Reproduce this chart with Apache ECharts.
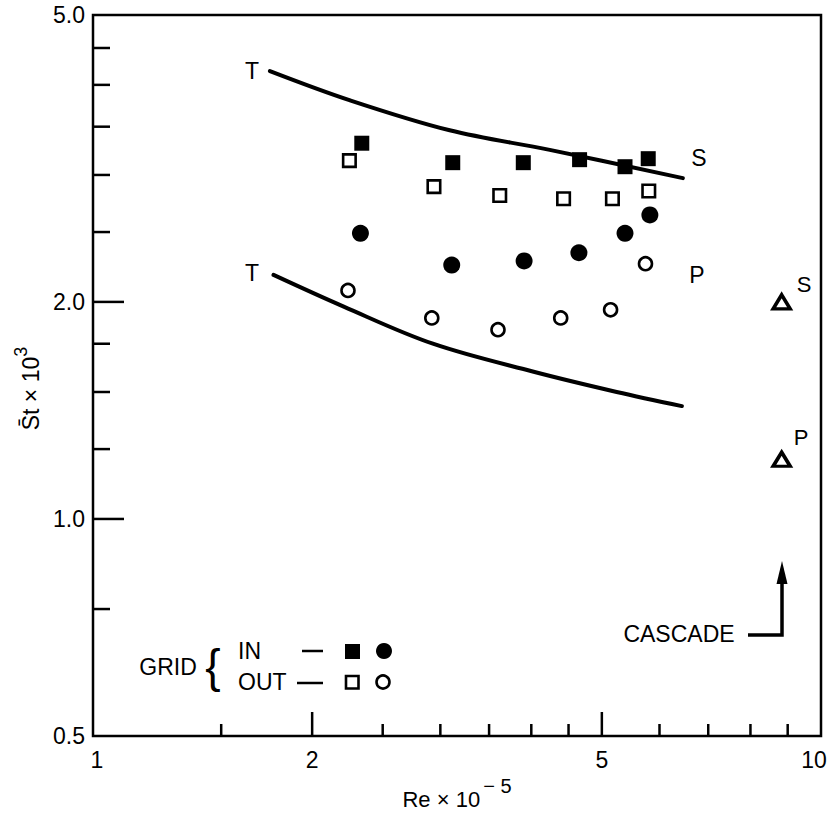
<!DOCTYPE html>
<html>
<head>
<meta charset="utf-8">
<script src="https://cdn.jsdelivr.net/npm/echarts@6/dist/echarts.min.js"></script>
<style>html,body{margin:0;padding:0;background:#fff;overflow:hidden}#c{width:831px;height:815px}</style>
</head>
<body>
<div id="c"></div>
<script>
// ---- data ----
const reTicksMajor = [2, 5];
const reTicksMinor = [1.5, 2.5, 3, 3.5, 4, 4.5, 6, 7, 8, 9];
const reLabels = [1, 2, 5, 10];
const stTicksMajor = [1, 2];
const stTicksMinor = [0.75, 1.25, 1.5, 1.75, 2.5, 3, 3.5, 4, 4.5];
const stLabels = [0.5, 1, 2, 5];

// grid IN, suction side (filled squares)
const inS_Re = [2.34, 3.12, 3.90, 4.66, 5.38, 5.79];
const inS_St = [3.32, 3.12, 3.12, 3.15, 3.08, 3.16];
// grid OUT, suction side (open squares)
const outS_Re = [2.25, 2.94, 3.62, 4.43, 5.17, 5.80];
const outS_St = [3.14, 2.89, 2.81, 2.78, 2.78, 2.85];
// grid IN, pressure side (filled circles)
const inP_Re = [2.33, 3.11, 3.91, 4.65, 5.38, 5.82];
const inP_St = [2.49, 2.25, 2.28, 2.34, 2.49, 2.64];
// grid OUT, pressure side (open circles)
const outP_Re = [2.24, 2.92, 3.60, 4.39, 5.14, 5.74];
const outP_St = [2.075, 1.90, 1.83, 1.90, 1.95, 2.26];
// cascade (triangles)
const casc_Re = [8.83, 8.83];
const casc_St = [2.0, 1.21];
// turbulent correlation curves
const tS_Re = [1.75, 2.25, 3.09, 4.24, 6.46];
const tS_St = [4.18, 3.81, 3.46, 3.25, 2.97];
const tP_Re = [1.77, 2.21, 2.93, 4.03, 5.24, 6.44];
const tP_St = [2.18, 1.97, 1.75, 1.60, 1.50, 1.434];

const zip = (a, b) => a.map((v, i) => [v, b[i]]);
const FONT = "'Liberation Sans', Arial, sans-serif";
const X0 = 1, Y0 = 0.5;

function xTickSeries(vals, len) {
  return {
    type: 'custom', coordinateSystem: 'cartesian2d', clip: false, silent: true, z: 5,
    data: vals.map(v => [v, Y0]),
    renderItem: (params, api) => {
      const p = api.coord([api.value(0), api.value(1)]);
      return { type: 'line', shape: { x1: p[0], y1: p[1], x2: p[0], y2: p[1] - len },
               style: { stroke: '#000', lineWidth: 2.5 } };
    }
  };
}
function yTickSeries(vals, len) {
  return {
    type: 'custom', coordinateSystem: 'cartesian2d', clip: false, silent: true, z: 5,
    data: vals.map(v => [X0, v]),
    renderItem: (params, api) => {
      const p = api.coord([api.value(0), api.value(1)]);
      return { type: 'line', shape: { x1: p[0], y1: p[1], x2: p[0] + len, y2: p[1] },
               style: { stroke: '#000', lineWidth: 2.5 } };
    }
  };
}

const chart = echarts.init(document.getElementById('c'), null, { renderer: 'svg' });

const txt = (x, y, s, size, align) => ({
  type: 'text', x: x, y: y,
  style: { text: s, font: (size || 23) + 'px ' + FONT, fill: '#000', align: align || 'center', verticalAlign: 'middle' }
});

const tickLabelStyle = { fontSize: 23, fontFamily: FONT, color: '#000' };

chart.setOption({
  animation: false,
  backgroundColor: '#fff',
  grid: { left: 93, right: 10, top: 15, bottom: 79, show: true, borderColor: '#000', borderWidth: 2.5,
          containLabel: false, outerBoundsMode: 'none' },
  xAxis: {
    type: 'log', logBase: 10, min: 1, max: 10,
    axisLine: { show: false }, axisTick: { show: false }, splitLine: { show: false },
    axisLabel: { customValues: reLabels, color: '#000', fontSize: 23, fontFamily: FONT, margin: 12,
                 formatter: v => {
                   const r = Math.round(v);
                   if (r === 1) return '{l|1}';
                   if (r === 10) return '{r|10}';
                   return '{m|' + r + '}';
                 },
                 rich: {
                   l: Object.assign({ padding: [0, 0, 0, 8] }, tickLabelStyle),
                   m: Object.assign({}, tickLabelStyle),
                   r: Object.assign({ padding: [0, 14, 0, 0] }, tickLabelStyle)
                 } },
    name: '{a|Re × 10}{b|− 5}', nameLocation: 'middle', nameGap: 40,
    nameTextStyle: { rich: {
      a: { fontSize: 22, fontFamily: FONT, color: '#000', lineHeight: 34, verticalAlign: 'bottom' },
      b: { fontSize: 20, fontFamily: FONT, color: '#000', lineHeight: 34, verticalAlign: 'top', padding: [0, 0, 0, 3] } } }
  },
  yAxis: {
    type: 'log', logBase: 10, min: 0.5, max: 5,
    axisLine: { show: false }, axisTick: { show: false }, splitLine: { show: false },
    axisLabel: { customValues: stLabels, color: '#000', fontSize: 23, fontFamily: FONT, margin: 8,
                 formatter: v => Number(v).toFixed(1) },
    name: '{a|S\u0304t × 10}{b|3}', nameLocation: 'middle', nameGap: 50, nameRotate: 90,
    nameTextStyle: { padding: [0, 26, 0, 0], rich: {
      a: { fontSize: 23, fontFamily: FONT, color: '#000', lineHeight: 30, verticalAlign: 'bottom' },
      b: { fontSize: 18, fontFamily: FONT, color: '#000', lineHeight: 30, verticalAlign: 'top' } } }
  },
  series: [
    xTickSeries(reTicksMajor, 24),
    xTickSeries(reTicksMinor, 12),
    yTickSeries(stTicksMajor, 31),
    yTickSeries(stTicksMinor, 17),
    { type: 'line', data: zip(tS_Re, tS_St), smooth: 0.35, showSymbol: false, symbol: 'none',
      lineStyle: { color: '#000', width: 4, cap: 'round', opacity: 1 }, z: 2 },
    { type: 'line', data: zip(tP_Re, tP_St), smooth: 0.35, showSymbol: false, symbol: 'none',
      lineStyle: { color: '#000', width: 4, cap: 'round', opacity: 1 }, z: 2 },
    { type: 'scatter', data: zip(inS_Re, inS_St), symbol: 'rect', symbolSize: 15,
      itemStyle: { color: '#000', opacity: 1 }, z: 3 },
    { type: 'scatter', data: zip(outS_Re, outS_St), symbol: 'rect', symbolSize: 12.5,
      itemStyle: { color: '#fff', borderColor: '#000', borderWidth: 2.6, opacity: 1 }, z: 3 },
    { type: 'scatter', data: zip(inP_Re, inP_St), symbol: 'circle', symbolSize: 17,
      itemStyle: { color: '#000', opacity: 1 }, z: 3 },
    { type: 'scatter', data: zip(outP_Re, outP_St), symbol: 'circle', symbolSize: 13,
      itemStyle: { color: '#fff', borderColor: '#000', borderWidth: 2.6, opacity: 1 }, z: 3 },
    { type: 'scatter', data: zip(casc_Re, casc_St), symbol: 'triangle', symbolSize: [17, 14],
      itemStyle: { color: '#fff', borderColor: '#000', borderWidth: 3.5, opacity: 1 }, z: 3 }
  ],
  graphic: [
    txt(252, 71, 'T'), txt(252, 273, 'T'),
    txt(699, 158, 'S'), txt(697, 275, 'P'),
    txt(804, 284, 'S', 22), txt(801, 437, 'P', 22),
    // legend
    txt(168, 667, 'GRID', 23),
    { type: 'text', x: 213, y: 666, style: { text: '{', font: '46px ' + FONT, fill: '#000', align: 'center', verticalAlign: 'middle' } },
    txt(238, 651, 'IN', 23, 'left'),
    txt(238, 682, 'OUT', 23, 'left'),
    { type: 'line', shape: { x1: 302, y1: 651, x2: 323, y2: 651 }, style: { stroke: '#000', lineWidth: 2.5 } },
    { type: 'line', shape: { x1: 297, y1: 683, x2: 323, y2: 683 }, style: { stroke: '#000', lineWidth: 2.5 } },
    { type: 'rect', shape: { x: 345, y: 644, width: 15, height: 15 }, style: { fill: '#000' } },
    { type: 'circle', shape: { cx: 384, cy: 651, r: 8 }, style: { fill: '#000' } },
    { type: 'rect', shape: { x: 346, y: 676, width: 12.5, height: 12.5 }, style: { fill: '#fff', stroke: '#000', lineWidth: 2.6 } },
    { type: 'circle', shape: { cx: 383, cy: 682, r: 6.5 }, style: { fill: '#fff', stroke: '#000', lineWidth: 2.6 } },
    // cascade arrow
    txt(679, 634, 'CASCADE', 23),
    { type: 'polyline', shape: { points: [[748, 635], [782, 635], [782, 578]] }, style: { stroke: '#000', lineWidth: 3.5, fill: null } },
    { type: 'polygon', shape: { points: [[782, 561], [776.5, 584], [787.5, 584]] }, style: { fill: '#000' } }
  ]
});
</script>
</body>
</html>
